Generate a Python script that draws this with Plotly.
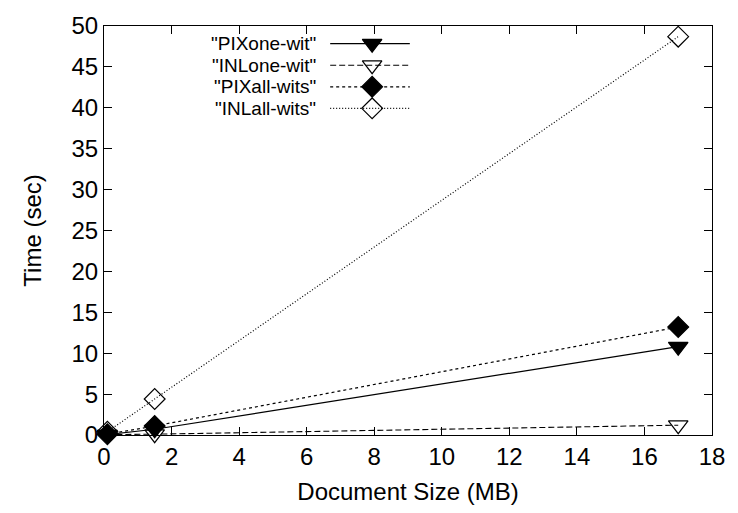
import plotly.graph_objects as go

# Data
doc_size_mb = [0.1, 1.5, 17.0]
pix_one_wit = [0.05, 0.7, 10.8]
inl_one_wit = [0.05, 0.1, 1.2]
pix_all_wits = [0.1, 1.1, 13.2]
inl_all_wits = [0.4, 4.4, 48.7]

series_names = ['"PIXone-wit"', '"INLone-wit"', '"PIXall-wits"', '"INLall-wits"']
series_values = [pix_one_wit, inl_one_wit, pix_all_wits, inl_all_wits]
x_ticks = [0, 2, 4, 6, 8, 10, 12, 14, 16, 18]
y_ticks = [0, 5, 10, 15, 20, 25, 30, 35, 40, 45, 50]

styles = [
    dict(dash="solid", symbol="triangle-down", size=17, width=1.2),
    dict(dash="6px,3px", symbol="triangle-down-open", size=17, width=1.1),
    dict(dash="3px,3px", symbol="diamond", size=16, width=1.2),
    dict(dash="1px,2px", symbol="diamond-open", size=16, width=1.2),
]

FS = 24
LEG_FS = 19

fig = go.Figure()
for name, vals, st in zip(series_names, series_values, styles):
    fig.add_trace(go.Scatter(
        x=doc_size_mb, y=vals, mode="lines+markers", name=name,
        line=dict(color="black", width=st["width"], dash=st["dash"]),
        marker=dict(symbol=st["symbol"], size=st["size"], color="black",
                    line=dict(color="black", width=1.2)),
        cliponaxis=False, showlegend=False,
    ))

# gnuplot-style legend (text then sample) drawn on a hidden overlay axis
leg_rows = [0.9568, 0.9041, 0.8513, 0.7986]
for name, st, yy in zip(series_names, styles, leg_rows):
    fig.add_trace(go.Scatter(
        x=[0.372, 0.503], y=[yy, yy], mode="lines", xaxis="x2", yaxis="y2",
        line=dict(color="black", width=st["width"], dash=st["dash"]),
        showlegend=False, hoverinfo="skip",
    ))
    fig.add_trace(go.Scatter(
        x=[0.441], y=[yy], mode="markers", xaxis="x2", yaxis="y2",
        marker=dict(symbol=st["symbol"], size=st["size"], color="black",
                    line=dict(color="black", width=1.2)),
        showlegend=False, hoverinfo="skip",
    ))
    fig.add_annotation(x=0.35, y=yy, xref="x2", yref="y2", text=name,
                       showarrow=False, xanchor="right", yanchor="middle",
                       borderpad=0,
                       font=dict(size=LEG_FS, color="black"))

axis_common = dict(
    showline=True, linecolor="black", linewidth=1.2, mirror="ticks",
    ticks="inside", ticklen=8, tickcolor="black", tickwidth=1,
    showgrid=False, zeroline=False,
    tickfont=dict(size=FS, color="black"),
)

fig.update_layout(
    width=738, height=513,
    margin=dict(l=104, r=26, t=18, b=78),
    paper_bgcolor="white", plot_bgcolor="white",
    font=dict(family="Liberation Sans, Arial, sans-serif", size=FS, color="black"),
    xaxis=dict(range=[0, 18], tickvals=x_ticks,
               title=dict(text="Document Size (MB)", font=dict(size=FS), standoff=14),
               **axis_common),
    yaxis=dict(range=[0, 50], tickvals=y_ticks,
               title=dict(text="Time (sec)", font=dict(size=FS), standoff=22),
               **axis_common),
    xaxis2=dict(range=[0, 1], overlaying="x", visible=False),
    yaxis2=dict(range=[0, 1], overlaying="y", visible=False),
    showlegend=False,
)

fig.write_html("out.html")
